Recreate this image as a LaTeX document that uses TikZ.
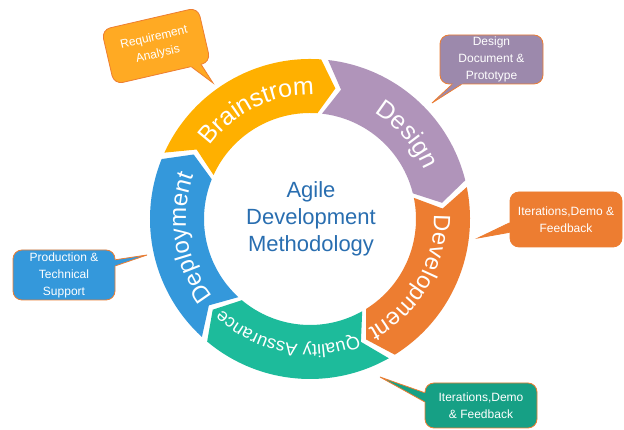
\documentclass[tikz,border=0pt]{standalone}
\usepackage{fontspec}
\setmainfont{Liberation Sans}
\usetikzlibrary{calc,decorations.text}

\definecolor{brainfill}{RGB}{255,176,0}
\definecolor{designfill}{RGB}{176,148,186}
\definecolor{devfill}{RGB}{237,125,49}
\definecolor{qafill}{RGB}{29,187,155}
\definecolor{deployfill}{RGB}{52,152,219}
\definecolor{reqnotefill}{RGB}{255,170,35}
\definecolor{designnotefill}{RGB}{156,137,172}
\definecolor{qanotefill}{RGB}{22,160,133}
\definecolor{noteline}{RGB}{237,125,49}
\definecolor{titleblue}{RGB}{41,110,176}

\newcommand{\rout}{160}
\newcommand{\rin}{106}
\newcommand{\rmid}{133}

% ring piece: tail angle, head angle, colour
\newcommand{\ringpiece}[3]{%
  \fill[#3] (#1+1:\rout pt) arc[start angle=#1+1, end angle=#2+3.5, radius=\rout pt]
    -- (#2-3.5:\rmid pt)
    -- (#2+3.5:\rin pt) arc[start angle=#2+3.5, end angle=#1+1, radius=\rin pt]
    -- (#1-6:\rmid pt) -- cycle;}

% white label along the ring: middle angle, baseline radius, size, text
\newcommand{\ringlabel}[4]{%
  \path[decorate, decoration={text along path, text align=center,
      text={|\fontsize{#3}{#3}\selectfont\color{white}|#4}}]
    (#1+40:#2pt) arc[start angle=#1+40, end angle=#1-40, radius=#2pt];}

% pointer of a note: node, corner, corner, from, to, tip, colour
\newcommand{\notetail}[7]{%
  \coordinate (#1-a) at ($(#1.#2)!#4!(#1.#3)$);
  \coordinate (#1-b) at ($(#1.#2)!#5!(#1.#3)$);
  \fill[#7] ($(#1-a)!3pt!(#1.center)$) -- (#1-a) -- (#6) -- (#1-b)
    -- ($(#1-b)!3pt!(#1.center)$) -- cycle;
  \draw[noteline, line width=0.8pt] (#1-a) -- (#6) -- (#1-b);}

\begin{document}
\begin{tikzpicture}[x=1pt, y=1pt,
    note/.style={rounded corners=9pt, draw=noteline, line width=0.8pt,
      text=white, align=center, inner sep=0pt,
      font=\fontsize{12}{17}\selectfont}]
  \useasboundingbox (0,0) rectangle (624,430);
  \fill[white] (0,0) rectangle (624,430);

  \coordinate (c) at (310,211);
  \begin{scope}[shift={(c)}]
    \ringpiece{154.5}{82.5}{brainfill}
    \ringpiece{82.5}{10.5}{designfill}
    \ringpiece{10.5}{-61.5}{devfill}
    \ringpiece{-61.5}{-133.5}{qafill}
    \ringpiece{-133.5}{-205.5}{deployfill}
    \ringlabel{116}{124}{25}{Brainstrom}
    \ringlabel{41}{124}{25}{Design}
    \ringlabel{-30}{124}{23.5}{Development}
    \ringlabel{-101}{126}{18}{Quality Assurance}
    \ringlabel{189}{124}{24}{Deployment}
  \end{scope}

  \node[text=titleblue, align=center, font=\fontsize{22}{27}\selectfont]
    (title) at (311,211) {Agile\\Development\\Methodology};

  \coordinate (reqtip) at (213,347);
  \coordinate (designtip) at (432,327);
  \coordinate (devtip) at (478,192);
  \coordinate (qatip) at (380,53);
  \coordinate (deploytip) at (147,175);

  \node[note, fill=reqnotefill, minimum width=99, minimum height=56, rotate=13]
    (reqnote) at (156,384) {Requirement\\Analysis};
  \node[note, fill=designnotefill, minimum width=103, minimum height=49]
    (designnote) at (491.5,370.5) {Design\\Document \&\\Prototype};
  \node[note, fill=devfill, minimum width=112, minimum height=55]
    (devnote) at (566,210.5) {Iterations,Demo \&\\Feedback};
  \node[note, fill=qanotefill, minimum width=112, minimum height=45]
    (qanote) at (481,24.5) {Iterations,Demo\\\& Feedback};
  \node[note, fill=deployfill, minimum width=102, minimum height=50]
    (deploynote) at (64,155) {Production \&\\Technical\\Support};

  \notetail{reqnote}{south east}{south west}{0.1}{0.2}{reqtip}{reqnotefill}
  \notetail{designnote}{south west}{south east}{0.12}{0.21}{designtip}{designnotefill}
  \notetail{devnote}{north west}{south west}{0.56}{0.73}{devtip}{devfill}
  \notetail{qanote}{north west}{south west}{0.22}{0.42}{qatip}{qanotefill}
  \notetail{deploynote}{north east}{south east}{0.2}{0.32}{deploytip}{deployfill}
\end{tikzpicture}
\end{document}
